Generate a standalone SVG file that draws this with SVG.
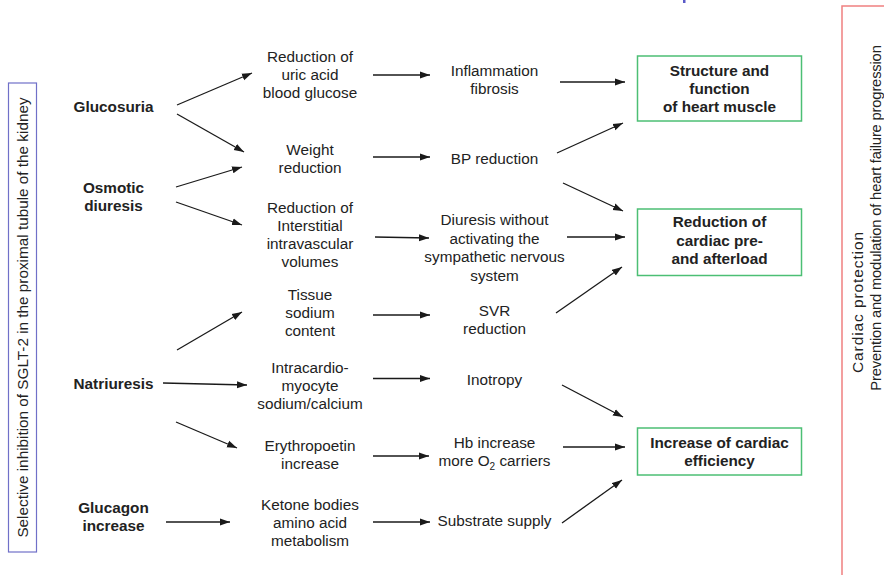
<svg xmlns="http://www.w3.org/2000/svg" width="884" height="575" viewBox="0 0 884 575">
<style>
text{font-family:"Liberation Sans",Arial,sans-serif;font-size:15.3px;fill:#222;text-anchor:middle}
.b{font-weight:bold}
.gb{fill:none;stroke:#4cbf74;stroke-width:1.5}
.c line{stroke:#1a1a1a;stroke-width:1.3;marker-end:url(#ah)}
</style>
<defs>
<marker id="ah" markerUnits="userSpaceOnUse" markerWidth="10" markerHeight="8" refX="10" refY="4" orient="auto">
<path d="M0,0.5 L10,4 L0,7.5 z" fill="#1a1a1a"/>
</marker>
</defs>
<rect x="0" y="0" width="884" height="575" fill="#fff"/>
<rect x="683" y="0" width="2.5" height="3" fill="#5a5ac8"/>

<g id="left-frame">
<rect x="8.5" y="83" width="28" height="469" fill="none" stroke="#7070c8" stroke-width="1.2"/>
<text transform="translate(27.5,317.5) rotate(-90)">Selective inhibition of SGLT-2 in the proximal tubule of the kidney</text>
</g>
<g id="right-frame">
<rect x="842" y="6" width="60" height="600" fill="none" stroke="#f08080" stroke-width="1.5"/>
<text transform="translate(862.5,302) rotate(-90)" style="font-size:15.5px;letter-spacing:0.9px">Cardiac protection</text>
<text transform="translate(880.5,218) rotate(-90)" style="font-size:14.8px;letter-spacing:-0.2px">Prevention and modulation of heart failure progression</text>
</g>

<g id="glucosuria"><text class="b" x="113.5" y="111.5">Glucosuria</text></g>
<g id="osmotic"><text class="b" x="113.5" y="192.5">Osmotic</text><text class="b" x="113.5" y="210.5">diuresis</text></g>
<g id="natriuresis"><text class="b" x="113.5" y="388.5">Natriuresis</text></g>
<g id="glucagon"><text class="b" x="113.5" y="512.5">Glucagon</text><text class="b" x="113.5" y="530.5">increase</text></g>

<g id="uric"><text x="310" y="62">Reduction of</text><text x="310" y="80">uric acid</text><text x="310" y="98">blood glucose</text></g>
<g id="weight"><text x="310" y="154.5">Weight</text><text x="310" y="172.5">reduction</text></g>
<g id="interstitial"><text x="310" y="212.5">Reduction of</text><text x="310" y="230.8">Interstitial</text><text x="310" y="249">intravascular</text><text x="310" y="267.3">volumes</text></g>
<g id="tissue"><text x="310" y="300">Tissue</text><text x="310" y="318">sodium</text><text x="310" y="336">content</text></g>
<g id="intracardio"><text x="310" y="373">Intracardio-</text><text x="310" y="391">myocyte</text><text x="310" y="409">sodium/calcium</text></g>
<g id="epo"><text x="310" y="451">Erythropoetin</text><text x="310" y="469">increase</text></g>
<g id="ketone"><text x="310" y="510">Ketone bodies</text><text x="310" y="528">amino acid</text><text x="310" y="546">metabolism</text></g>

<g id="inflammation"><text x="494.5" y="76">Inflammation</text><text x="494.5" y="94">fibrosis</text></g>
<g id="bp"><text x="494.5" y="164">BP reduction</text></g>
<g id="diuresis"><text x="494.5" y="225">Diuresis without</text><text x="494.5" y="243.5">activating the</text><text x="494.5" y="262">sympathetic nervous</text><text x="494.5" y="280.5">system</text></g>
<g id="svr"><text x="494.5" y="316">SVR</text><text x="494.5" y="334">reduction</text></g>
<g id="inotropy"><text x="494.5" y="385">Inotropy</text></g>
<g id="hb"><text x="494.5" y="448">Hb increase</text><text x="494.5" y="466">more O<tspan dy="4" font-size="10">2</tspan><tspan dy="-4"> carriers</tspan></text></g>
<g id="substrate"><text x="494.5" y="526">Substrate supply</text></g>

<g id="structure"><rect class="gb" x="637.5" y="56" width="164" height="65"/><text class="b" x="719.5" y="76">Structure and</text><text class="b" x="719.5" y="94">function</text><text class="b" x="719.5" y="112">of heart muscle</text></g>
<g id="preload"><rect class="gb" x="637.5" y="209" width="164" height="66.5"/><text class="b" x="719.5" y="227">Reduction of</text><text class="b" x="719.5" y="245.5">cardiac pre-</text><text class="b" x="719.5" y="264">and afterload</text></g>
<g id="efficiency"><rect class="gb" x="637.5" y="428" width="164" height="47"/><text class="b" x="719.5" y="448">Increase of cardiac</text><text class="b" x="719.5" y="466">efficiency</text></g>

<g id="connectors" class="c">
<line x1="177" y1="105" x2="252" y2="73"/>
<line x1="177" y1="114" x2="244" y2="152"/>
<line x1="176" y1="187" x2="242" y2="167"/>
<line x1="176" y1="202" x2="242" y2="225"/>
<line x1="373" y1="75" x2="430" y2="75"/>
<line x1="373" y1="157" x2="430" y2="157"/>
<line x1="375" y1="237" x2="429" y2="238"/>
<line x1="560" y1="82" x2="625" y2="82"/>
<line x1="557" y1="153" x2="623" y2="123"/>
<line x1="563" y1="183" x2="623" y2="211"/>
<line x1="567" y1="237" x2="625" y2="237"/>
<line x1="556" y1="313" x2="622" y2="267"/>
<line x1="177" y1="350" x2="242" y2="312"/>
<line x1="163" y1="383" x2="247" y2="385"/>
<line x1="176" y1="422" x2="237" y2="448"/>
<line x1="373" y1="315" x2="430" y2="315"/>
<line x1="373" y1="378.5" x2="430" y2="378.5"/>
<line x1="373" y1="456" x2="429" y2="456"/>
<line x1="166" y1="522" x2="230" y2="522"/>
<line x1="373" y1="522" x2="430" y2="522"/>
<line x1="562" y1="385" x2="623" y2="417"/>
<line x1="563" y1="447" x2="625" y2="447"/>
<line x1="562" y1="523" x2="622" y2="480"/>
</g>
</svg>
